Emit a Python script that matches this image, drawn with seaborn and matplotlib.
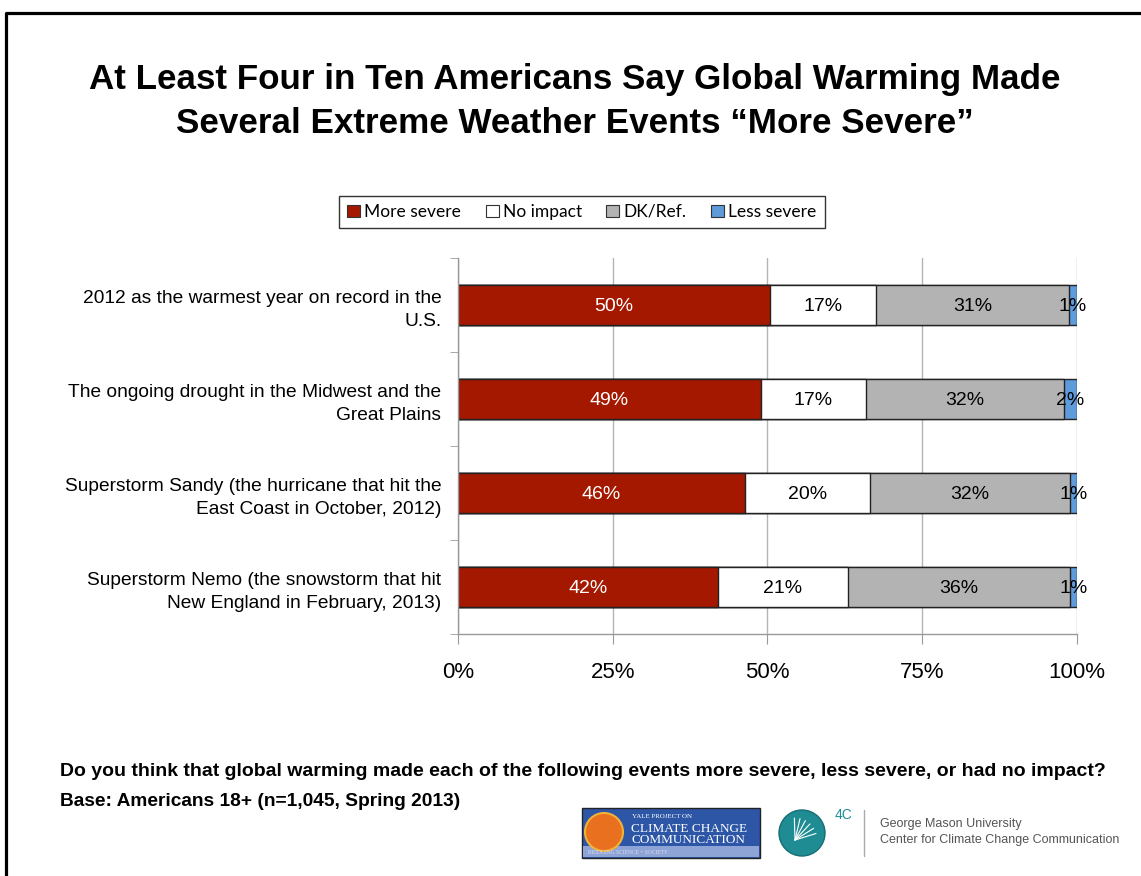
import matplotlib.pyplot as plt
import matplotlib.patches as mpatches
import numpy as np
import pandas as pd
import seaborn as sns

sns.set_style("white")
plt.rcParams['font.family'] = ['Liberation Sans', 'DejaVu Sans']
plt.rcParams['text.color'] = 'black'
plt.rcParams['xtick.color'] = 'black'
plt.rcParams['ytick.color'] = 'black'

# data (percent of Americans)
events = [
    "2012 as the warmest year on record in the\nU.S.",
    "The ongoing drought in the Midwest and the\nGreat Plains",
    "Superstorm Sandy (the hurricane that hit the\nEast Coast in October, 2012)",
    "Superstorm Nemo (the snowstorm that hit\nNew England in February, 2013)",
]
more_severe = [50.4, 48.9, 46.4, 42.0]
no_impact = [17.2, 17.0, 20.1, 21.0]
dk_ref = [31.1, 32.0, 32.3, 35.9]
less_severe = [1.3, 2.1, 1.2, 1.1]

series_names = ["More severe", "No impact", "DK/Ref.", "Less severe"]
colors = ["#A51800", "#FFFFFF", "#B3B3B3", "#5E9BDB"]
label_colors = ["white", "black", "black", "black"]
xticks = [0, 25, 50, 75, 100]

df = pd.DataFrame({"event": events, "More severe": more_severe,
                   "No impact": no_impact, "DK/Ref.": dk_ref,
                   "Less severe": less_severe})
cum = df[series_names].cumsum(axis=1)
left = cum - df[series_names]

fig = plt.figure(figsize=(11.41, 8.76), dpi=100)

# background overlay in pixel units for frame / logos
bg = fig.add_axes([0, 0, 1, 1], zorder=0)
bg.set_xlim(0, 1141)
bg.set_ylim(876, 0)
bg.axis("off")
bg.plot([6, 6, 1141], [876, 13, 13], color="black", lw=2.3, solid_capstyle="butt")

ax = fig.add_axes([0.4014, 0.2763, 0.5425, 0.4292], zorder=2)
ax.set_facecolor("none")

# stacked bars drawn as cumulative totals, longest first
for name, col in reversed(list(zip(series_names, colors))):
    sns.barplot(x=cum[name], y=df["event"], color=col, saturation=1,
                edgecolor="#222222", linewidth=1, width=0.42, orient="h", ax=ax)

for name, tc in zip(series_names, label_colors):
    for i in range(len(events)):
        v = df[name].iloc[i]
        ax.text(left[name].iloc[i] + v / 2, i, f"{round(v)}%", ha="center",
                va="center_baseline", fontsize=14, color=tc, zorder=5)

ax.set_xlim(0, 100)
ax.set_xticks(xticks)
ax.set_xticklabels([f"{t}%" for t in xticks], fontsize=16)
ax.set_xlabel("")
ax.set_ylabel("")
ax.xaxis.grid(True, color="#B5B5B5", lw=1)
ax.set_axisbelow(True)
ax.set_yticks(np.arange(-0.5, len(events), 1), minor=True)
ax.tick_params(axis="y", which="major", length=0, pad=12, labelsize=13.8)
ax.tick_params(axis="y", which="minor", left=True, length=6, color="#999999")
ax.tick_params(axis="x", which="major", bottom=True, length=7, color="#999999", pad=13)
for lab in ax.get_yticklabels():
    lab.set_linespacing(1.45)
    lab.set_horizontalalignment("right")
for s in ["top", "right"]:
    ax.spines[s].set_visible(False)
for s in ["left", "bottom"]:
    ax.spines[s].set_color("#999999")
    ax.spines[s].set_linewidth(1)

fig.text(0.504, 0.884,
         "At Least Four in Ten Americans Say Global Warming Made\nSeveral Extreme Weather Events \u201cMore Severe\u201d",
         ha="center", va="center", fontsize=25.2, fontweight="bold", linespacing=1.4)

handles = [mpatches.Patch(facecolor=c, edgecolor="#333333", lw=0.8) for c in colors]
leg = fig.legend(handles, series_names, loc="center", bbox_to_anchor=(0.51, 0.758),
                 ncol=4, frameon=True, fancybox=False, edgecolor="black",
                 prop={"family": "Lato", "size": 12.5}, handlelength=0.75,
                 handleheight=0.75, handletextpad=0.25, columnspacing=1.4,
                 borderpad=0.45)
leg.get_frame().set_linewidth(1)

fig.text(60 / 1141, 1 - 771 / 876,
         "Do you think that global warming made each of the following events more severe, less severe, or had no impact?",
         ha="left", va="center", fontsize=14, fontweight="bold")
fig.text(60 / 1141, 1 - 802 / 876, "Base: Americans 18+ (n=1,045, Spring 2013)",
         ha="left", va="center", fontsize=13.8, fontweight="bold")

# logos (approximated)
bg.add_patch(mpatches.Rectangle((582, 808), 178, 50, facecolor="#2D57A6", edgecolor="#222222", lw=1))
bg.add_patch(mpatches.Rectangle((583, 846), 176, 11, facecolor="#8EA3D6", edgecolor="none"))
bg.add_patch(mpatches.Circle((604, 832), 19, facecolor="#E8701E", edgecolor="#F2B23A", lw=1.5))
bg.text(632, 817, "YALE PROJECT ON", color="white", fontsize=5, family="Liberation Serif", va="center")
bg.text(631, 829, "CLIMATE CHANGE", color="white", fontsize=9.5, family="Liberation Serif", va="center")
bg.text(631, 840, "COMMUNICATION", color="white", fontsize=9.5, family="Liberation Serif", va="center")
bg.text(588, 852, "BRIDGING SCIENCE + SOCIETY", color="#D8E0F5", fontsize=4, family="Liberation Serif", va="center")
bg.add_patch(mpatches.Circle((802, 833), 23, facecolor="#1E8C92", edgecolor="#166E73", lw=1))
for a in np.linspace(0.3, 1.6, 6):
    bg.plot([795, 795 + 22 * np.cos(a)], [840, 840 - 22 * np.sin(a)], color="white", lw=0.8)
bg.text(835, 815, "4C", color="#1E8C92", fontsize=10, va="center")
bg.plot([864, 864], [810, 856], color="#AAAAAA", lw=1)
bg.text(880, 824, "George Mason University", color="#555555", fontsize=9, va="center")
bg.text(880, 840, "Center for Climate Change Communication", color="#555555", fontsize=9, va="center")

fig.savefig("out.png", dpi=100)
